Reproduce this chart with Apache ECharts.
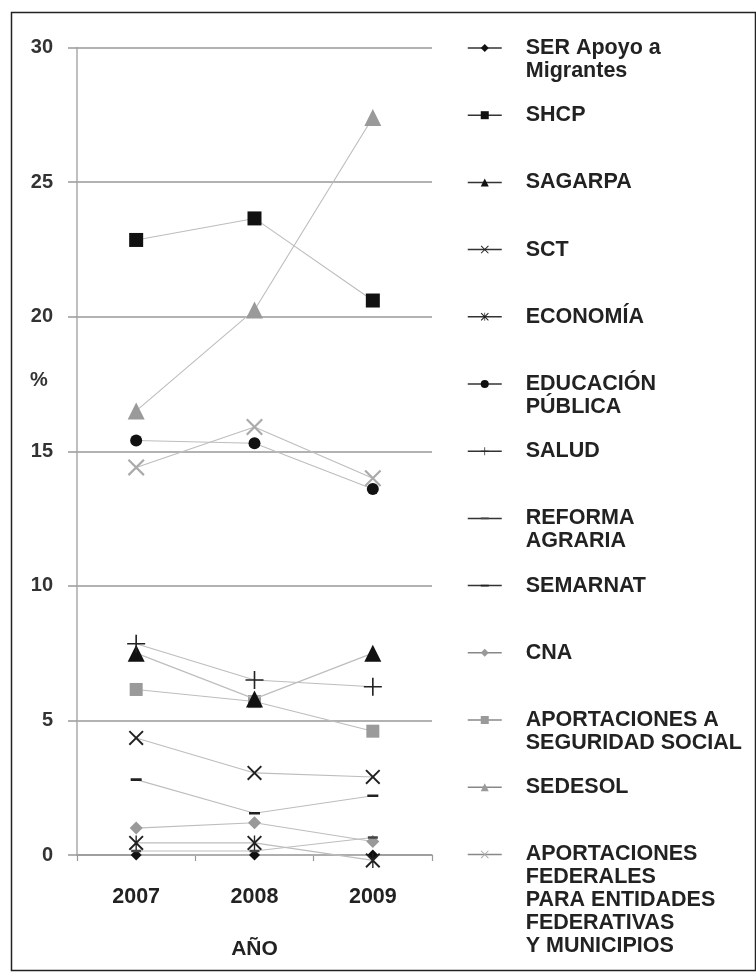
<!DOCTYPE html>
<html>
<head>
<meta charset="utf-8">
<script src="https://cdn.jsdelivr.net/npm/echarts@6/dist/echarts.min.js"></script>
<style>
html,body{margin:0;padding:0;background:#fff;}
#chart{width:756px;height:972px;}
</style>
</head>
<body>
<div id="chart"></div>
<script>
// ---- data ----
const years = ['2007', '2008', '2009'];
const yTicks = [0, 5, 10, 15, 20, 25, 30];

const seriesNames = [
  'SER Apoyo a Migrantes', 'SHCP', 'SAGARPA', 'SCT', 'ECONOMÍA',
  'EDUCACIÓN PÚBLICA', 'SALUD', 'REFORMA AGRARIA', 'SEMARNAT', 'CNA',
  'APORTACIONES A SEGURIDAD SOCIAL', 'SEDESOL',
  'APORTACIONES FEDERALES PARA ENTIDADES FEDERATIVAS Y MUNICIPIOS'
];
const legendLabels = [
  'SER Apoyo a\nMigrantes', 'SHCP', 'SAGARPA', 'SCT', 'ECONOMÍA',
  'EDUCACIÓN\nPÚBLICA', 'SALUD', 'REFORMA\nAGRARIA', 'SEMARNAT', 'CNA',
  'APORTACIONES A\nSEGURIDAD SOCIAL', 'SEDESOL',
  'APORTACIONES\nFEDERALES\nPARA ENTIDADES\nFEDERATIVAS\nY MUNICIPIOS'
];

const serApoyo      = [0.0, 0.0, 0.0];
const shcp          = [22.85, 23.65, 20.6];
const sagarpa       = [7.5, 5.8, 7.5];
const sct           = [4.35, 3.05, 2.9];
const economia      = [0.45, 0.45, -0.2];
const educacion     = [15.4, 15.3, 13.6];
const salud         = [7.85, 6.5, 6.25];
const reformaAgr    = [0.15, 0.15, 0.65];
const semarnat      = [2.8, 1.55, 2.2];
const cna           = [1.0, 1.2, 0.5];
const aportSegSoc   = [6.15, 5.7, 4.6];
const sedesol       = [16.5, 20.25, 27.4];
const aportFederal  = [14.4, 15.9, 14.0];

const seriesData = [serApoyo, shcp, sagarpa, sct, economia, educacion, salud,
  reformaAgr, semarnat, cna, aportSegSoc, sedesol, aportFederal];

// ---- styles ----
const X_PATH = 'path://M0,0.9L0.9,0L10,9.1L9.1,10Z M9.1,0L10,0.9L0.9,10L0,9.1Z';
const PLUS_PATH = 'path://M4.55,0H5.45V10H4.55Z M0,4.55H10V5.45H0Z';
const AST_PATH = 'path://M0,0.9L0.9,0L10,9.1L9.1,10Z M9.1,0L10,0.9L0.9,10L0,9.1Z M4.55,0H5.45V10H4.55Z';
// short dash inside a square 10x10 box (tiny corner specks keep the box square)
const DASH_PATH = 'path://M0,0H0.01V0.01H0Z M0,3.8H10V6.2H0Z M9.99,9.99H10V10H9.99Z';

const styles = [
  {symbol: 'diamond', size: 11, color: '#111'},
  {symbol: 'rect', size: 14, color: '#111'},
  {symbol: 'triangle', size: 17, color: '#111'},
  {symbol: X_PATH, size: 15, color: '#222'},
  {symbol: AST_PATH, size: 15, color: '#222'},
  {symbol: 'circle', size: 12, color: '#111'},
  {symbol: PLUS_PATH, size: 18, color: '#222'},
  {symbol: DASH_PATH, size: 10, color: '#444'},
  {symbol: DASH_PATH, size: 11, color: '#222'},
  {symbol: 'diamond', size: 13, color: '#999'},
  {symbol: 'rect', size: 13, color: '#9a9a9a'},
  {symbol: 'triangle', size: 17, color: '#9a9a9a'},
  {symbol: X_PATH, size: 17, color: '#aaa'}
];

const FONT = '"Liberation Sans", Arial, sans-serif';
const LH = 23;

const series = seriesNames.map((name, i) => ({
  name: name,
  type: 'line',
  data: seriesData[i],
  symbol: styles[i].symbol,
  symbolSize: styles[i].size,
  clip: false,
  itemStyle: {color: styles[i].color},
  lineStyle: {color: '#bdbdbd', width: 1.1},
  z: 3 + (i < 9 ? 1 : 0)
}));

const legends = seriesNames.map((name, i) => {
  const lines = legendLabels[i].split('\n');
  const L = lines.length;
  const iconY = 48 + i * 67.2;
  // prepend blank lines so that the first text line is centred on the icon
  const padded = new Array(L - 1).fill(' ').concat(lines).join('\n');
  return {
    data: [name],
    orient: 'vertical',
    left: 467,
    top: iconY - LH * (2 * L - 1) / 2,
    padding: 0,
    itemWidth: 34,
    itemHeight: 10,
    selectedMode: false,
    formatter: () => padded,
    lineStyle: {color: i < 9 ? '#333' : '#888', width: 1.5},
    textStyle: {
      fontFamily: FONT, fontSize: 21.5, fontWeight: 'bold', color: '#222',
      lineHeight: LH, padding: [0, 0, 0, 19]
    }
  };
});

const chart = echarts.init(document.getElementById('chart'), null, {renderer: 'canvas'});
chart.setOption({
  backgroundColor: '#fff',
  animation: false,
  grid: {left: 77, right: 324, top: 47.5, bottom: 117},
  xAxis: {
    type: 'category',
    data: years,
    name: 'AÑO',
    nameLocation: 'middle',
    nameGap: 84,
    nameTextStyle: {fontFamily: FONT, fontSize: 21, fontWeight: 'bold', color: '#222'},
    axisLine: {lineStyle: {color: '#999', width: 1.5}},
    axisTick: {show: true, length: 6, lineStyle: {color: '#999', width: 1.2}},
    axisLabel: {fontFamily: FONT, fontSize: 21.5, fontWeight: 'bold', color: '#222', margin: 31}
  },
  yAxis: {
    type: 'value',
    min: 0, max: 30, interval: 5,
    axisLine: {show: true, lineStyle: {color: '#aaa', width: 1.5}},
    axisTick: {show: true, length: 9, lineStyle: {color: '#999', width: 1.5}},
    axisLabel: {
      fontFamily: FONT, fontSize: 20, fontWeight: 'bold', color: '#333', margin: 24,
      formatter: v => (yTicks.indexOf(v) >= 0 ? String(v) : '')
    },
    splitLine: {show: true, lineStyle: {color: '#999', width: 1.5}}
  },
  legend: legends,
  graphic: [
    {type: 'text', left: 30, top: 370,
     style: {text: '%', font: 'bold 20px ' + FONT, fill: '#333'}},
    {type: 'rect', left: 9, top: 10, silent: true,
     shape: {width: 744, height: 958},
     style: {fill: 'none', stroke: '#222', lineWidth: 1.5}}
  ],
  series: series
});
</script>
</body>
</html>
